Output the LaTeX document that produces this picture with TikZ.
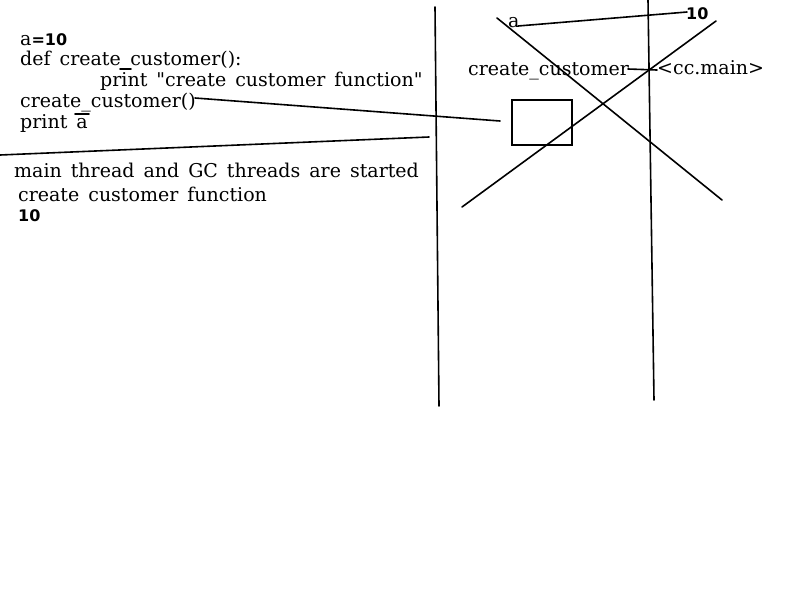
\documentclass[tikz,border=0pt]{standalone}
\usepackage{fontspec}
\setmainfont{DejaVu Serif}[Ligatures=TeXOff]
\newfontfamily\boldsans{DejaVu Sans}
\newcommand{\widesp}{\spaceskip=9pt plus 1pt\relax}
\begin{document}
\begin{tikzpicture}[x=1pt,y=-1pt,
  txt/.style={anchor=base west,inner sep=0pt,font=\fontsize{19}{22}\selectfont},
  bsans/.style={anchor=base west,inner sep=0pt,font=\fontsize{16}{20}\boldsans\bfseries},
  pen/.style={line width=1.6pt,line cap=round}]
\useasboundingbox[fill=white] (0,0) rectangle (800,600);
% left code
\node[txt] (l1) at (20,45) {a{\boldsans\bfseries\fontsize{16}{20}\selectfont =10}};
\node[txt] (l2) at (20,65) {\widesp def create\_customer():};
\node[txt] (l3) at (100,86) {\widesp print "create customer function"};
\node[txt] (l4) at (20,107) {create\_customer()};
\node[txt] (l5) at (20,128) {\widesp print a};
\node[txt] (o1) at (14,177) {\widesp main thread and GC threads are started};
\node[txt] (o2) at (18,201) {\widesp create customer function};
\node[bsans] (o3) at (18,221) {10};
% right
\node[txt] (ra) at (508,27) {a};
\node[bsans] (r10) at (686,19) {10};
\node[txt] (rcc) at (468,75) {create\_customer};
\node[txt] (rmain) at (657,74) {<cc.main>};
\node[draw,pen,minimum width=60pt,minimum height=45pt,inner sep=0pt] (box) at (542,122.5) {};
% lines
\coordinate (v1a) at (435,7); \coordinate (v1b) at (439,406);
\coordinate (v2a) at (648,0); \coordinate (v2b) at (654,400);
\draw[pen] (v1a) -- (v1b);
\draw[pen] (v2a) -- (v2b);
\coordinate (h1) at (0,155); \coordinate (h2) at (429,137);
\draw[pen] (h1) -- (h2);
\coordinate (c1) at (195,98); \coordinate (c2) at (500,121);
\draw[pen] (c1) -- (c2);
\coordinate (x1a) at (497,18); \coordinate (x1b) at (722,200);
\draw[pen] (x1a) -- (x1b);
\coordinate (x2a) at (462,207); \coordinate (x2b) at (716,21);
\draw[pen] (x2a) -- (x2b);
\coordinate (aa) at (518,26); \coordinate (ab) at (687,12);
\draw[pen] (aa) -- (ab);
\coordinate (ma) at (628,69); \coordinate (mb) at (657,70);
\draw[pen] (ma) -- (mb);
% pen marks
\coordinate (p1) at (120,69); \coordinate (p2) at (131,69);
\draw[pen] (p1) -- (p2);
\coordinate (q1) at (75,114); \coordinate (q2) at (89,114);
\draw[pen] (q1) -- (q2);
\end{tikzpicture}
\end{document}
